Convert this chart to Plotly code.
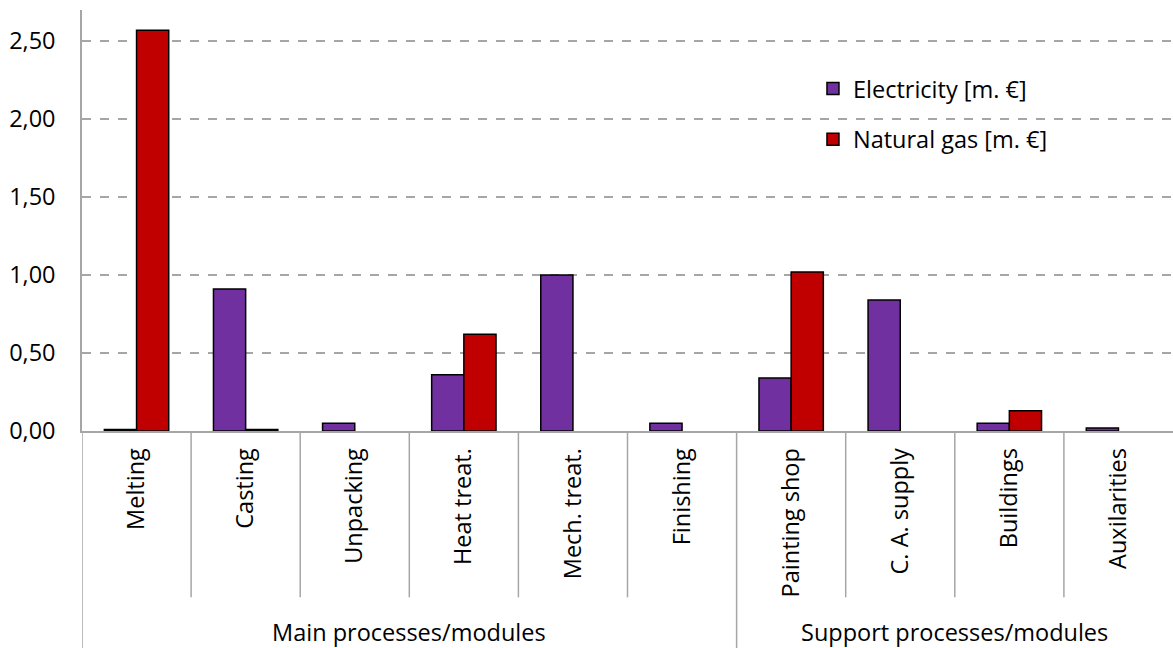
import plotly.graph_objects as go

categories = ["Melting", "Casting", "Unpacking", "Heat treat.", "Mech. treat.",
              "Finishing", "Painting shop", "C. A. supply", "Buildings", "Auxilarities"]
groups = ["Main processes/modules", "Support processes/modules"]
group_sizes = [6, 4]
electricity = [0.01, 0.91, 0.05, 0.36, 1.00, 0.05, 0.34, 0.84, 0.05, 0.02]
natural_gas = [2.57, 0.01, None, 0.62, None, None, 1.02, None, 0.13, None]
y_ticks = [0, 0.5, 1.0, 1.5, 2.0, 2.5]

FONT = "Open Sans"
FS = 23.5
GRAY = "#a6a6a6"

fig = go.Figure()
fig.add_trace(go.Bar(x=categories, y=electricity, name="Electricity [m. €]",
                     marker=dict(color="#7030A0", line=dict(color="black", width=1.5)),
                     legendgroup="e"))
fig.add_trace(go.Bar(x=categories, y=natural_gas, name="Natural gas [m. €]",
                     marker=dict(color="#C00000", line=dict(color="black", width=1.5)),
                     legendgroup="g"))

shapes = []
n = len(categories)
boundaries = []
acc = 0
for s in group_sizes:
    acc += s
    boundaries.append(acc)
for i in range(n - 1):
    xpos = i + 0.5
    y0 = -0.52 if (i + 1) in boundaries else -0.395
    shapes.append(dict(type="line", xref="x", yref="paper", x0=xpos, x1=xpos,
                       y0=0, y1=y0, line=dict(color=GRAY, width=1.5)))
shapes.append(dict(type="line", xref="x", yref="paper", x0=-0.5, x1=-0.5,
                   y0=0, y1=-0.52, line=dict(color=GRAY, width=1.5)))

annotations = []
start = 0
for g, s in zip(groups, group_sizes):
    center = start + (s - 1) / 2
    annotations.append(dict(x=center, xref="x", y=-0.478, yref="paper", text=g,
                            showarrow=False, font=dict(family=FONT, size=FS, color="black"),
                            xanchor="center", yanchor="middle"))
    start += s

fig.update_layout(
    width=1173, height=648,
    margin=dict(l=82, r=0, t=10, b=217),
    plot_bgcolor="white", paper_bgcolor="white",
    barmode="group", bargap=0.41, bargroupgap=0,
    separators=",.",
    font=dict(family=FONT, size=FS, color="black"),
    shapes=shapes, annotations=annotations,
    legend=dict(x=0.67, y=0.865, xanchor="left", yanchor="top",
                font=dict(family=FONT, size=FS, color="black"),
                tracegroupgap=17, bgcolor="rgba(0,0,0,0)"),
)
fig.update_xaxes(range=[-0.5, n - 0.5], tickangle=-90, showline=True, linecolor=GRAY,
                 linewidth=1.5, ticks="", showgrid=False, tickfont=dict(family=FONT, size=FS),
                 ticklabelstandoff=6)
fig.update_yaxes(range=[0, 2.7], tickvals=y_ticks, tickformat=".2f", showline=True,
                 linecolor=GRAY, linewidth=1.5, showgrid=True, gridcolor=GRAY,
                 griddash="dash", gridwidth=1.5, zeroline=False, ticks="",
                 tickfont=dict(family=FONT, size=FS), ticklabelstandoff=20)

fig.write_html("out.html")
